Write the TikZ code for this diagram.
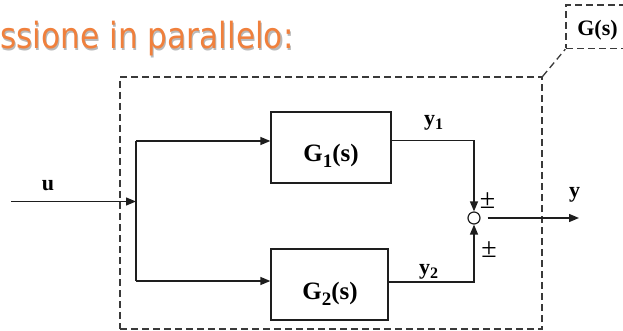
\documentclass[tikz,border=0pt]{standalone}
\usepackage{fontspec}
\setmainfont{Liberation Serif}
\newfontfamily\titlefont{DejaVu Sans}
\usetikzlibrary{arrows.meta}
\definecolor{titleorange}{HTML}{F0803C}
\definecolor{titleshade}{HTML}{B8B8B8}
\definecolor{ink}{HTML}{1E1E1E}
\definecolor{dashgrey}{HTML}{3A3A3A}
% lowered index: size, drop, text
\newcommand{\lowidx}[3]{\raisebox{-#2}{\fontsize{#1}{#1}\selectfont #3}}

\begin{document}
\begin{tikzpicture}[x=1pt,y=-1pt,
  wire/.style={draw=ink,line width=1.3pt},
  arr/.style={wire,-{Triangle[length=10pt,width=8pt]}},
  frame/.style={draw=dashgrey,line width=1.3pt,dash pattern=on 7pt off 4pt,inner sep=0pt},
  block/.style={draw=ink,line width=1.3pt,minimum height=71pt,inner sep=0pt},
  glabel/.style={font=\bfseries\fontsize{25}{25}\selectfont,anchor=base,inner sep=0pt},
  slabel/.style={font=\bfseries\fontsize{22}{22}\selectfont,anchor=base,inner sep=0pt},
  pm/.style={font=\fontsize{28}{28}\selectfont,inner sep=0pt},
  heading/.style={anchor=base west,inner sep=0pt,font=\titlefont\fontsize{36}{36}\selectfont},
]
\useasboundingbox (0,0) rectangle (623,331);
\clip (0,0) rectangle (623,331);

% heading with soft shadow
\node[heading,text=titleshade] (titleshadow) at (1.2,50.2) {\scalebox{0.867}[1]{ssione in parallelo:}};
\node[heading,text=titleorange] (title) at (0,49) {\scalebox{0.867}[1]{ssione in parallelo:}};

% overall system frame and its tag
\node[frame,minimum width=422pt,minimum height=252pt] (sys) at (331,203) {};
\node[frame,minimum width=63pt,minimum height=43.5pt] (gs) at (597.5,26.75) {};
\draw[draw=dashgrey,line width=1.3pt,dash pattern=on 7pt off 4pt] (sys.north east) -- (gs.south west);
\node[slabel] (gstext) at (597.5,36) {G(s)};

% the two blocks
\node[block,minimum width=120pt] (G1) at (331,147.5) {};
\node[block,minimum width=117pt] (G2) at (329.5,284.5) {};
\node[glabel] (G1text) at (331,161.5) {G\lowidx{19}{6pt}{1}(s)};
\node[glabel] (G2text) at (330,299.5) {G\lowidx{19}{6pt}{2}(s)};

% summing junction
\node[circle,draw=ink,line width=1.2pt,minimum size=12pt,inner sep=0pt] (sum) at (474,218) {};

% branch points
\coordinate (uin) at (11,201.5);
\coordinate (split) at (136,201.5);
\coordinate (splitT) at (136,141);
\coordinate (splitB) at (136,281);
\coordinate (y1c) at (474,140.5);
\coordinate (y2c) at (474,282);
\coordinate (yend) at (579,218);

% connectors
\draw[arr] (uin) -- (split);
\draw[wire] (splitT) -- (splitB);
\draw[arr] (splitT) -- (splitT -| G1.west);
\draw[arr] (splitB) -- (splitB -| G2.west);
\draw[arr] (G1.east |- y1c) -- (y1c) -- (sum.north);
\draw[arr] (G2.east |- y2c) -- (y2c) -- (sum.south);
\draw[arr,shorten <=7pt] (sum.east) -- (yend);

% signal labels
\node[slabel] (ulbl) at (48,190) {u};
\node[slabel] (ylbl) at (574.5,197) {y};
\node[slabel,anchor=base west] (y1lbl) at (424,125.5) {y\lowidx{16}{4.5pt}{1}};
\node[slabel,anchor=base west] (y2lbl) at (419,274) {y\lowidx{16}{4.5pt}{2}};
\node[pm] (pm1) at (487.5,201) {±};
\node[pm] (pm2) at (489,249.5) {±};
\end{tikzpicture}
\end{document}
